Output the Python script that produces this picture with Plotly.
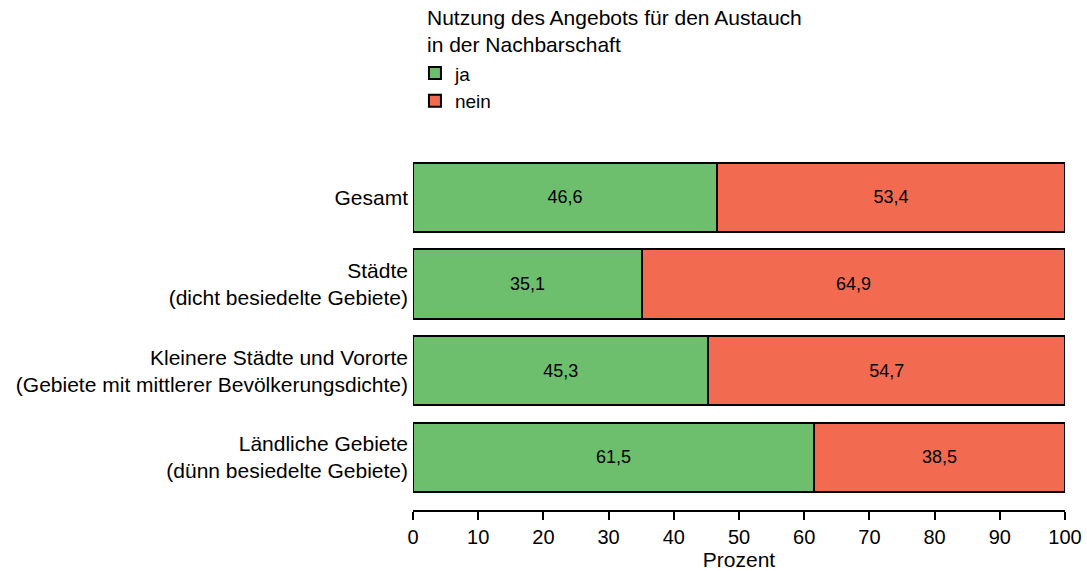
import plotly.graph_objects as go

categories = [
    "Gesamt",
    "Städte<br>(dicht besiedelte Gebiete)",
    "Kleinere Städte und Vororte<br>(Gebiete mit mittlerer Bevölkerungsdichte)",
    "Ländliche Gebiete<br>(dünn besiedelte Gebiete)",
]
ja = [46.6, 35.1, 45.3, 61.5]
nein = [53.4, 64.9, 54.7, 38.5]
x_ticks = [0, 10, 20, 30, 40, 50, 60, 70, 80, 90, 100]

font_family = "Liberation Sans, Arial, sans-serif"


def fmt(v):
    return f"{v:.1f}".replace(".", ",")


fig = go.Figure()
for name, vals, color in [("ja", ja, "#6DBF6E"), ("nein", nein, "#F26B50")]:
    fig.add_trace(go.Bar(
        y=categories, x=vals, name=name, orientation="h",
        marker=dict(color=color, line=dict(color="black", width=2)),
        text=[fmt(v) for v in vals], textposition="inside",
        insidetextanchor="middle",
        textfont=dict(color="black", size=18, family=font_family),
        width=0.8,
    ))

fig.update_layout(
    barmode="stack",
    width=1087, height=571,
    margin=dict(l=413, r=22, t=150, b=61),
    plot_bgcolor="white", paper_bgcolor="white",
    font=dict(family=font_family, size=21, color="black"),
    legend=dict(
        x=0.003, y=1.266, xanchor="left", yanchor="top",
        traceorder="normal", font=dict(size=19),
        tracegroupgap=0, bgcolor="rgba(0,0,0,0)",
    ),
    showlegend=True,
    uniformtext=dict(mode="show", minsize=10),
    annotations=[dict(
        text="Nutzung des Angebots für den Austauch<br>in der Nachbarschaft",
        xref="paper", yref="paper", x=0.019, y=1.405,
        xanchor="left", yanchor="top", align="left", showarrow=False,
        font=dict(size=21),
    )],
)
fig.update_xaxes(
    range=[0, 100], tickvals=x_ticks, showgrid=False, zeroline=False,
    showline=True, linecolor="black", linewidth=2,
    ticks="outside", ticklen=8, tickwidth=2, tickcolor="black",
    tickfont=dict(size=20), automargin=False,
    title=dict(text="Prozent", font=dict(size=21), standoff=4),
)
fig.update_yaxes(
    range=[3.606, -0.548], showgrid=False, zeroline=False, showline=False,
    ticks="", ticklabelstandoff=4, automargin=False,
)

# drop the default body margin so the figure fills the window exactly
fig.write_html(
    "out.html",
    config={"displayModeBar": False},
    post_script="document.body.style.margin='0';document.body.style.overflow='hidden';",
)
